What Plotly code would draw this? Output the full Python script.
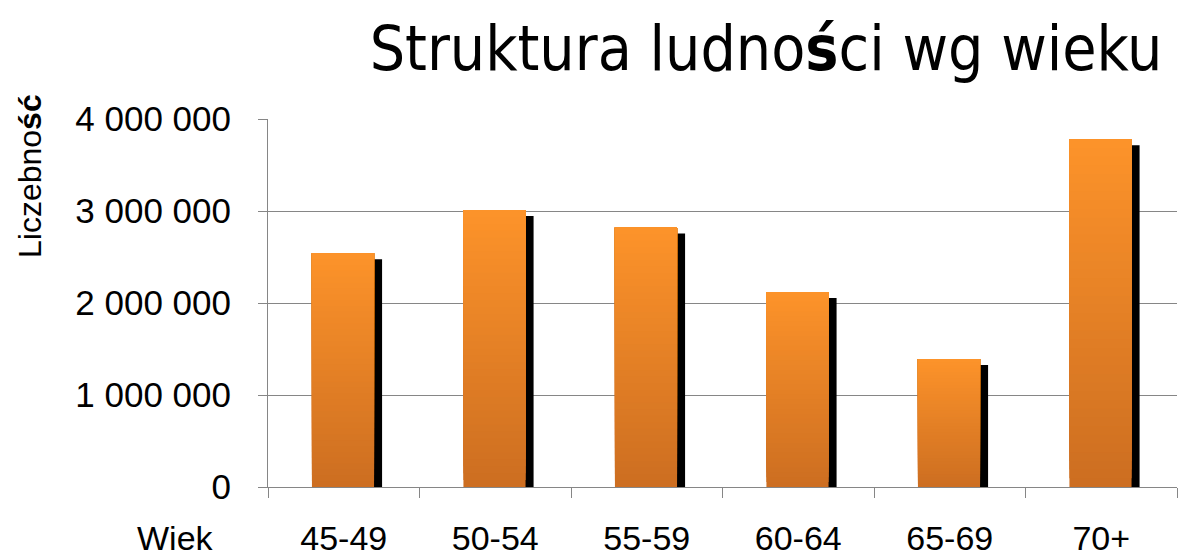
import plotly.graph_objects as go

categories = ["45-49", "50-54", "55-59", "60-64", "65-69", "70+"]
values = [2540000, 3010000, 2820000, 2120000, 1390000, 3780000]
y_ticks = [0, 1000000, 2000000, 3000000, 4000000]

title_text = "Struktura ludno<b>ś</b>ci wg wieku"
y_title = "Liczebno<b>ść</b>"
x_title = "Wiek"

OFF = 8  # page body margin
W, H = 1196 - OFF, 559 - OFF
M = dict(l=268 - OFF, r=19, t=119 - OFF, b=72)
plot_w = W - M["l"] - M["r"]
plot_h = H - M["t"] - M["b"]
units_per_px = (y_ticks[-1] - y_ticks[0]) / plot_h


def px_x(x):  # screen px -> paper
    return (x - OFF - M["l"]) / plot_w


def px_y(y):
    return (H - M["b"] - (y - OFF)) / plot_h


top_rgb = (253, 147, 42)
bot_rgb = (204, 110, 33)
N = 40

fig = go.Figure()

# shadow
shadow_drop = 6 * units_per_px
fig.add_trace(go.Bar(
    x=categories, y=[v - shadow_drop for v in values],
    width=0.41, offset=-0.157,
    marker=dict(color="#000000", line=dict(width=0)),
    hoverinfo="skip", showlegend=False))

# gradient bar built from overlapping slices (each runs from its base to the bar top)
for k in range(N):
    t = (k + 0.5) / N
    c = tuple(round(b + (tp - b) * t) for b, tp in zip(bot_rgb, top_rgb))
    fig.add_trace(go.Bar(
        x=categories, y=[v * (N - k) / N for v in values], base=[v * k / N for v in values],
        width=0.41, offset=-0.21,
        marker=dict(color="rgb(%d,%d,%d)" % c, line=dict(width=0)),
        hoverinfo="skip", showlegend=False))

font_main = "Liberation Sans, Arial, sans-serif"
fig.update_layout(
    width=W, height=H, margin=M,
    barmode="overlay",
    paper_bgcolor="white", plot_bgcolor="white",
    separators=", ",
    title=dict(text=title_text, x=(766 - OFF) / W, xanchor="center", y=1 - (48 - OFF) / H, yanchor="middle",
               font=dict(family="DejaVu Sans Condensed, Liberation Sans, sans-serif", size=62, color="#000")),
    xaxis=dict(
        type="category", showgrid=False, showline=True, linecolor="#868686", linewidth=1,
        ticks="outside", tickson="boundaries", ticklen=10, tickcolor="#868686",
        tickfont=dict(family=font_main, size=34, color="#000"),
        ticklabelstandoff=21, range=[-0.5, 5.5], automargin=False),
    yaxis=dict(
        range=[0, 4000000], tickvals=y_ticks, tickformat=",d",
        showgrid=True, gridcolor="#868686", gridwidth=1,
        showline=True, linecolor="#868686", linewidth=1,
        ticks="outside", ticklen=9, tickcolor="#868686",
        tickfont=dict(family=font_main, size=35, color="#000"),
        ticklabelstandoff=20, zeroline=False, automargin=False),
    annotations=[
        dict(text=x_title, xref="paper", yref="paper", x=px_x(216), y=px_y(538),
             xanchor="right", yanchor="middle", showarrow=False,
             font=dict(family=font_main, size=34, color="#000")),
        dict(text=y_title, xref="paper", yref="paper", x=px_x(30), y=px_y(176),
             xanchor="center", yanchor="middle", textangle=-90, showarrow=False,
             font=dict(family=font_main, size=32, color="#000")),
    ],
)

fig.write_html("out.html")
